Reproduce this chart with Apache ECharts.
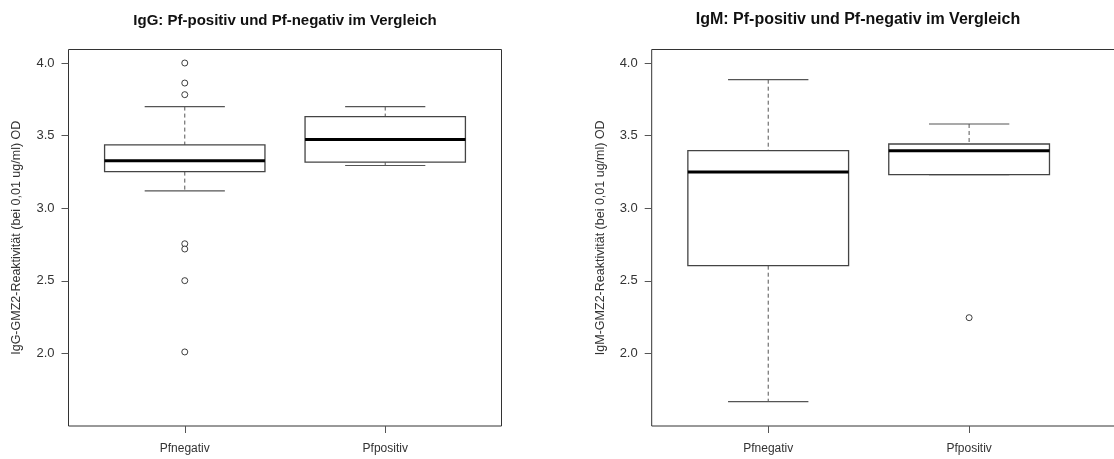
<!DOCTYPE html>
<html>
<head>
<meta charset="utf-8">
<script src="https://cdn.jsdelivr.net/npm/echarts@6/dist/echarts.min.js"></script>
<style>
  html, body { margin: 0; padding: 0; background: #fff; }
  #chart { width: 1114px; height: 459px; }
</style>
</head>
<body>
<div id="chart"></div>
<script>
var categories = ['Pfnegativ', 'Pfpositiv'];
var yTicks = [2.0, 2.5, 3.0, 3.5, 4.0];

// [lower whisker, Q1, median, Q3, upper whisker]
var iggStats = [
  [3.12, 3.252, 3.326, 3.436, 3.70],
  [3.294, 3.317, 3.473, 3.631, 3.70]
];
var igmStats = [
  [1.668, 2.604, 3.249, 3.396, 3.885],
  [3.231, 3.231, 3.396, 3.442, 3.58]
];
var iggOutNeg = [4.0, 3.862, 3.782, 2.755, 2.719, 2.501, 2.01];
var iggOutPos = [];
var igmOutNeg = [];
var igmOutPos = [2.246];

var chart = echarts.init(document.getElementById('chart'), null, {renderer: 'canvas'});

function boxRows(stats) {
  return stats.map(function (s, i) { return [i + 1].concat(s); });
}
function outRows(neg, pos) {
  var rows = [];
  neg.forEach(function (v) { rows.push([1, v]); });
  pos.forEach(function (v) { rows.push([2, v]); });
  return rows;
}

function renderBox(params, api) {
  var x = api.value(0);
  var lo = api.coord([x, api.value(1)]);
  var q1 = api.coord([x, api.value(2)]);
  var md = api.coord([x, api.value(3)]);
  var q3 = api.coord([x, api.value(4)]);
  var hi = api.coord([x, api.value(5)]);
  var bl = api.coord([x - 0.4, 0])[0];
  var br = api.coord([x + 0.4, 0])[0];
  var cl = api.coord([x - 0.2, 0])[0];
  var cr = api.coord([x + 0.2, 0])[0];
  var dash = {stroke: '#555', lineWidth: 1, lineDash: [4, 3]};
  var solid = {stroke: '#555', lineWidth: 1.2};
  return {
    type: 'group',
    children: [
      {type: 'line', shape: {x1: hi[0], y1: hi[1], x2: q3[0], y2: q3[1]}, style: dash},
      {type: 'line', shape: {x1: q1[0], y1: q1[1], x2: lo[0], y2: lo[1]}, style: dash},
      {type: 'line', shape: {x1: cl, y1: hi[1], x2: cr, y2: hi[1]}, style: solid},
      {type: 'line', shape: {x1: cl, y1: lo[1], x2: cr, y2: lo[1]}, style: solid},
      {type: 'rect', shape: {x: bl, y: q3[1], width: br - bl, height: q1[1] - q3[1]},
        style: {fill: '#fff', stroke: '#444', lineWidth: 1.3}},
      {type: 'line', shape: {x1: bl, y1: md[1], x2: br, y2: md[1]},
        style: {stroke: '#000', lineWidth: 3}}
    ]
  };
}

function xAxisFor(idx, maxV) {
  return {
    type: 'value', gridIndex: idx, min: 0.42, max: maxV,
    axisLine: {show: false},
    splitLine: {show: false},
    axisTick: {show: true, inside: false, length: 7, customValues: [1, 2],
      lineStyle: {color: '#555'}},
    axisLabel: {show: true, customValues: [1, 2], margin: 17, fontSize: 12,
      fontFamily: 'Liberation Sans', color: '#333',
      formatter: function (v) { return categories[Math.round(v) - 1] || ''; }}
  };
}
function yAxisFor(idx, name) {
  return {
    type: 'value', gridIndex: idx, min: 1.5, max: 4.093,
    name: name, nameLocation: 'middle', nameRotate: 90, nameGap: 45,
    nameTextStyle: {fontSize: 12.5, fontFamily: 'Liberation Sans', color: '#333'},
    axisLine: {show: false},
    splitLine: {show: false},
    axisTick: {show: true, inside: false, length: 7, customValues: yTicks,
      lineStyle: {color: '#555'}},
    axisLabel: {show: true, customValues: yTicks, margin: 14, fontSize: 13,
      fontFamily: 'Liberation Sans', color: '#333',
      formatter: function (v) { return v.toFixed(1); }}
  };
}

var titleStyle = {fontSize: 15, fontWeight: 'bold', fontFamily: 'Liberation Sans', color: '#111'};
var titleStyleRight = {fontSize: 16, fontWeight: 'bold', fontFamily: 'Liberation Sans', color: '#111'};
var outlierStyle = {color: '#fff', borderColor: '#111', borderWidth: 1};

var option = {
  animation: false,
  backgroundColor: '#fff',
  title: [
    {text: 'IgG: Pf-positiv und Pf-negativ im Vergleich', left: 280, top: 8,
      textAlign: 'center', textStyle: titleStyle},
    {text: 'IgM: Pf-positiv und Pf-negativ im Vergleich', left: 853, top: 7,
      textAlign: 'center', textStyle: titleStyleRight}
  ],
  grid: [
    {left: 68.5, top: 49.5, width: 433, height: 376.5, show: true,
      outerBoundsMode: 'none',
      borderColor: '#333', borderWidth: 1, backgroundColor: 'transparent'},
    {left: 651.7, top: 49.5, width: 470, height: 376.5, show: true,
      outerBoundsMode: 'none',
      borderColor: '#333', borderWidth: 1, backgroundColor: 'transparent'}
  ],
  xAxis: [xAxisFor(0, 2.58), xAxisFor(1, 0.42 + 470 / 200.9)],
  yAxis: [
    yAxisFor(0, 'IgG-GMZ2-Reaktivität (bei 0,01 ug/ml) OD'),
    yAxisFor(1, 'IgM-GMZ2-Reaktivität (bei 0,01 ug/ml) OD')
  ],
  series: [
    {type: 'custom', xAxisIndex: 0, yAxisIndex: 0, renderItem: renderBox,
      encode: {x: 0, y: [1, 2, 3, 4, 5]}, data: boxRows(iggStats), silent: true},
    {type: 'custom', xAxisIndex: 1, yAxisIndex: 1, renderItem: renderBox,
      encode: {x: 0, y: [1, 2, 3, 4, 5]}, data: boxRows(igmStats), silent: true},
    {type: 'scatter', xAxisIndex: 0, yAxisIndex: 0, symbol: 'circle', symbolSize: 6,
      itemStyle: outlierStyle, data: outRows(iggOutNeg, iggOutPos), silent: true},
    {type: 'scatter', xAxisIndex: 1, yAxisIndex: 1, symbol: 'circle', symbolSize: 6,
      itemStyle: outlierStyle, data: outRows(igmOutNeg, igmOutPos), silent: true}
  ]
};
chart.setOption(option);
</script>
</body>
</html>
